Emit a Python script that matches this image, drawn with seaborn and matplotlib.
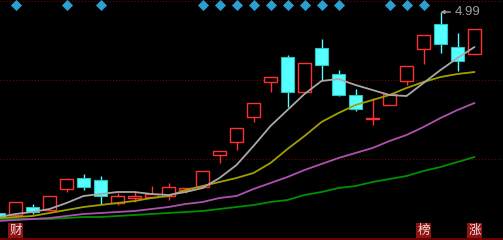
import numpy as np
import pandas as pd
import matplotlib
matplotlib.use("Agg")
import matplotlib.pyplot as plt
import seaborn as sns
from matplotlib.lines import Line2D
from matplotlib.transforms import blended_transform_factory

# ---- data ----
opens  = [2.98, 2.96, 3.04, 3.01, 3.22, 3.33, 3.31, 3.08, 3.13, 3.14, 3.15, 3.21, 3.24, 3.56, 3.69,
          3.94, 4.29, 4.54, 4.19, 4.63, 4.37, 4.16, 3.92, 4.06, 4.30, 4.62, 4.87, 4.64, 4.57]
closes = [2.94, 3.09, 2.99, 3.15, 3.32, 3.24, 3.15, 3.15, 3.15, 3.17, 3.24, 3.23, 3.40, 3.60, 3.83,
          4.08, 4.34, 4.19, 4.48, 4.46, 4.16, 4.02, 3.93, 4.17, 4.45, 4.76, 4.67, 4.50, 4.82]
highs  = [2.99, 3.09, 3.07, 3.15, 3.32, 3.37, 3.35, 3.18, 3.19, 3.25, 3.28, 3.23, 3.40, 3.60, 3.83,
          4.08, 4.34, 4.56, 4.48, 4.72, 4.41, 4.22, 4.13, 4.17, 4.45, 4.76, 4.99, 4.78, 4.82]
lows   = [2.93, 2.94, 2.97, 3.00, 3.19, 3.21, 3.07, 3.06, 3.09, 3.13, 3.11, 3.18, 3.23, 3.48, 3.61,
          3.89, 4.19, 4.04, 4.19, 4.31, 4.15, 4.00, 3.86, 4.06, 4.26, 4.47, 4.58, 4.40, 4.57]

ma5  = [2.94, 2.97, 2.99, 3.02, 3.08, 3.15, 3.17, 3.19, 3.19, 3.17, 3.16, 3.19, 3.23, 3.33, 3.46,
        3.65, 3.85, 4.01, 4.17, 4.30, 4.32, 4.26, 4.21, 4.16, 4.15, 4.28, 4.41, 4.53, 4.64]
ma10 = [2.93, 2.94, 2.95, 2.98, 3.01, 3.04, 3.06, 3.08, 3.10, 3.13, 3.15, 3.21, 3.25, 3.29, 3.33,
        3.38, 3.48, 3.62, 3.75, 3.89, 3.98, 4.06, 4.11, 4.16, 4.23, 4.29, 4.34, 4.37, 4.39]
ma20 = [2.90, 2.91, 2.92, 2.93, 2.95, 2.97, 2.98, 2.99, 3.00, 3.02, 3.04, 3.07, 3.09, 3.13, 3.15,
        3.22, 3.28, 3.34, 3.41, 3.47, 3.53, 3.58, 3.63, 3.70, 3.76, 3.84, 3.93, 4.01, 4.08]
ma60 = [2.92, 2.92, 2.92, 2.92, 2.93, 2.94, 2.94, 2.95, 2.96, 2.97, 2.98, 2.99, 3.00, 3.02, 3.04,
        3.06, 3.09, 3.11, 3.16, 3.19, 3.23, 3.25, 3.29, 3.32, 3.35, 3.40, 3.44, 3.49, 3.54]

signal_days = [1, 4, 6, 12, 13, 14, 15, 16, 17, 18, 19, 20, 23, 24, 25]
tag_days = [1, 25, 28]
tag_texts = ['财', '榜', '涨']
grid_levels = [3.52, 4.31, 5.10]
high_label = '4.99'

# ---- style ----
sns.set_style('dark', {'axes.facecolor': 'black', 'figure.facecolor': 'black'})
plt.rcParams['font.family'] = ['Noto Sans CJK SC', 'DejaVu Sans']

fig = plt.figure(figsize=(5.03, 2.40), dpi=100, facecolor='black')
ax = fig.add_axes([0, 0, 1, 1])
ax.set_facecolor('black')

n = len(opens)
x = np.arange(n)
o = np.array(opens); c = np.array(closes); h = np.array(highs); l = np.array(lows)
up = c >= o
RED = '#ff3030'
CYAN = '#55ffff'
CYAN_EDGE = '#30c0c0'
W = 0.76

# wicks
top = np.maximum(o, c); bot = np.minimum(o, c)
for mask, col in [(up, RED), (~up, CYAN)]:
    ax.vlines(x[mask], top[mask], h[mask], color=col, lw=1.0, zorder=2)
    ax.vlines(x[mask], l[mask], bot[mask], color=col, lw=1.0, zorder=2)

# bodies
hu = np.maximum(c[up] - o[up], 0.008)
ax.bar(x[up], hu, bottom=o[up], width=W, facecolor='black', edgecolor=RED, linewidth=1.0, zorder=2)
hd = np.maximum(o[~up] - c[~up], 0.008)
ax.bar(x[~up], hd, bottom=c[~up], width=W, facecolor=CYAN, edgecolor=CYAN_EDGE, linewidth=0.8, zorder=2)

# moving averages
df = pd.DataFrame({
    'x': np.tile(x, 4),
    'value': ma5 + ma10 + ma20 + ma60,
    'ma': ['MA5'] * n + ['MA10'] * n + ['MA20'] * n + ['MA60'] * n,
})
palette = {'MA5': '#a8a8a8', 'MA10': '#a0a000', 'MA20': '#b050b0', 'MA60': '#009000'}
sns.lineplot(data=df, x='x', y='value', hue='ma', hue_order=['MA60', 'MA20', 'MA10', 'MA5'],
             palette=palette, legend=False, ax=ax, linewidth=1.3, zorder=3)

# signal diamonds on top
trans = blended_transform_factory(ax.transData, ax.transAxes)
ax.scatter(signal_days, [1 - 5 / 240] * len(signal_days), marker='D', s=32,
           color='#2b9fd0', linewidths=0, transform=trans, zorder=4)

# bottom tags
for d, t in zip(tag_days, tag_texts):
    ax.text(d, 1 - 230.5 / 240, t, transform=trans, ha='center', va='center',
            fontsize=9, color='#f4e0e0', family=['Noto Sans CJK SC', 'DejaVu Sans'],
            bbox=dict(boxstyle='square,pad=0.08', fc='#8f1414', ec='none'), zorder=5)

# high annotation
ih = int(np.argmax(h))
ax.annotate(high_label, xy=(ih, h[ih]), xytext=(10.5, 0), textcoords='offset points',
            color='#a0a0a0', fontsize=9.5, family=['Liberation Sans', 'DejaVu Sans'],
            ha='left', va='center',
            arrowprops=dict(arrowstyle='-|>', color='#a0a0a0', lw=1.0, mutation_scale=5,
                            shrinkA=1, shrinkB=0), zorder=5)

# axes / grid
ax.set_xlim(1.5 / 17, (503 + 1.5) / 17)
ax.set_ylim(2.71, 5.11)
ax.set_yticks(grid_levels)
ax.set_xticks([])
ax.grid(axis='y', color='#800000', linestyle=(0, (1, 2)), linewidth=0.75)
ax.grid(axis='x', visible=False)
ax.set_axisbelow(True)
ax.tick_params(length=0, labelleft=False, labelbottom=False)
ax.set_xlabel(''); ax.set_ylabel('')
for s in ax.spines.values():
    s.set_visible(False)

fig.add_artist(Line2D([0, 1], [1.5 / 240, 1.5 / 240], color='#6a0000', lw=2.2, transform=fig.transFigure))

fig.savefig('out.png', dpi=100, facecolor='black')
